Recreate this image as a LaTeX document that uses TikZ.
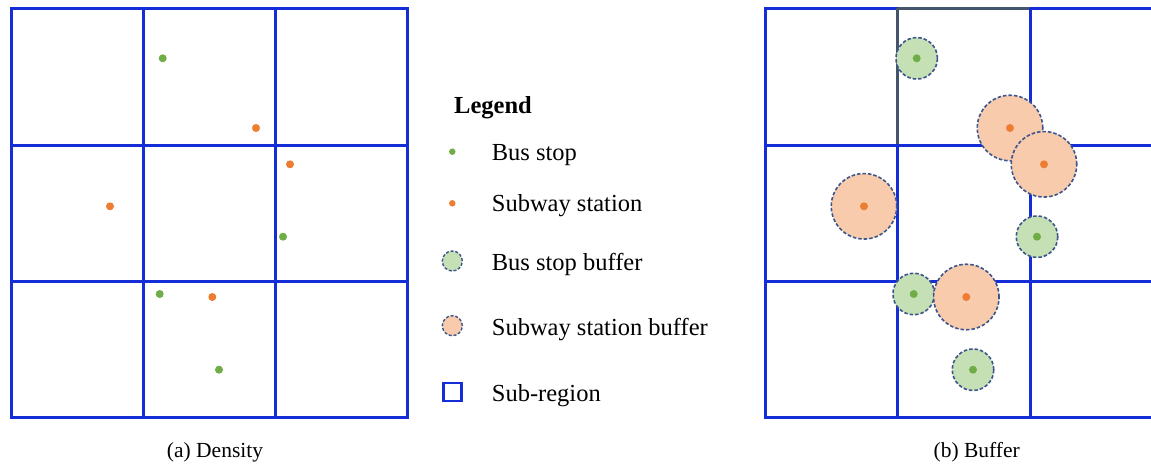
\documentclass[tikz,border=0pt]{standalone}
\usepackage{fontspec}
\setmainfont{Liberation Serif}
\definecolor{gridblue}{RGB}{20,45,215}
\definecolor{slate}{RGB}{68,84,106}
\definecolor{busg}{RGB}{112,173,71}
\definecolor{subo}{RGB}{237,125,49}
\definecolor{busfill}{RGB}{197,224,180}
\definecolor{subfill}{RGB}{248,203,173}
\definecolor{bufline}{RGB}{60,85,140}
\begin{document}
\begin{tikzpicture}[x=1pt,y=-1pt,
  gridline/.style={draw=gridblue,line width=3pt},
  busdot/.style={circle,fill=busg,inner sep=0pt,minimum size=8pt},
  subdot/.style={circle,fill=subo,inner sep=0pt,minimum size=8pt},
  lbusdot/.style={circle,fill=busg,inner sep=0pt,minimum size=6.5pt},
  lsubdot/.style={circle,fill=subo,inner sep=0pt,minimum size=6.5pt},
  busbuf/.style={circle,fill=busfill,draw=bufline,dash pattern=on 3.5pt off 2pt,line width=1.6pt,inner sep=0pt,minimum size=41.5pt},
  subbuf/.style={circle,fill=subfill,draw=bufline,dash pattern=on 3.5pt off 2pt,line width=1.6pt,inner sep=0pt,minimum size=65.5pt},
  lbusbuf/.style={busbuf,minimum size=20pt,line width=1.4pt,dash pattern=on 3pt off 1.8pt},
  lsubbuf/.style={subbuf,minimum size=20pt,line width=1.4pt,dash pattern=on 3pt off 1.8pt},
  legtext/.style={anchor=base west,inner sep=0pt,font=\fontsize{24.5}{28}\selectfont},
  captext/.style={anchor=base,inner sep=0pt,font=\fontsize{21.5}{26}\selectfont}]
\useasboundingbox (0,0) rectangle (1151,464);
\clip (0,0) rectangle (1151,464);
% ---------- (a) Density grid ----------
\draw[gridline] (11,8.3) rectangle (407.3,417.7);
\draw[gridline] (143.5,8.3) -- (143.5,417.7);
\draw[gridline] (275.7,8.3) -- (275.7,417.7);
\draw[gridline] (11,145) -- (407.3,145);
\draw[gridline] (11,281) -- (407.3,281);
\node[busdot] (a1) at (162.7,58.3) {};
\node[subdot] (a2) at (256,128) {};
\node[subdot] (a3) at (290,164.3) {};
\node[subdot] (a4) at (110,206.3) {};
\node[busdot] (a5) at (283,236.7) {};
\node[busdot] (a6) at (159.7,294) {};
\node[subdot] (a7) at (212.3,297) {};
\node[busdot] (a8) at (219,369.7) {};
\node[captext] (capa) at (215,457.3) {(a) Density};
% ---------- (b) Buffer grid ----------
\draw[gridline] (1170,417.7) -- (765,417.7) -- (765,8.3) -- (897.5,8.3);
\draw[draw=slate,line width=3pt] (897.5,8.3) -- (1030,8.3);
\draw[gridline] (1030,8.3) -- (1170,8.3);
\draw[draw=slate,line width=3pt] (897.5,8.3) -- (897.5,145);
\draw[gridline] (897.5,145) -- (897.5,417.7);
\draw[gridline] (1030,8.3) -- (1030,417.7);
\draw[gridline] (765,145) -- (1170,145);
\draw[gridline] (765,281) -- (1170,281);
\node[busbuf] (bb1) at (916.7,58.3) {};
\node[subbuf] (sb2) at (1010,128) {};
\node[subbuf] (sb3) at (1044,164.3) {};
\node[subbuf] (sb4) at (864,206.3) {};
\node[busbuf] (bb5) at (1037,236.7) {};
\node[busbuf] (bb6) at (913.7,294) {};
\node[subbuf] (sb7) at (966.3,297) {};
\node[busbuf] (bb8) at (973,369.7) {};
\node[busdot] (b1) at (bb1) {};
\node[subdot] (b2) at (sb2) {};
\node[subdot] (b3) at (sb3) {};
\node[subdot] (b4) at (sb4) {};
\node[busdot] (b5) at (bb5) {};
\node[busdot] (b6) at (bb6) {};
\node[subdot] (b7) at (sb7) {};
\node[busdot] (b8) at (bb8) {};
\node[captext] (capb) at (976.7,457.3) {(b) Buffer};
% ---------- Legend ----------
\node[legtext,font=\fontsize{24.5}{28}\selectfont\bfseries] (leg) at (454,113.3) {Legend};
\node[lbusdot] (l1) at (452.3,151.7) {};
\node[legtext] (t1) at (491.7,160.7) {Bus stop};
\node[lsubdot] (l2) at (452.3,203.3) {};
\node[legtext] (t2) at (491.7,211.7) {Subway station};
\node[lbusbuf] (l3) at (452.3,261) {};
\node[legtext] (t3) at (491.7,270) {Bus stop buffer};
\node[lsubbuf] (l4) at (452.3,325.7) {};
\node[legtext] (t4) at (491.7,335.7) {Subway station buffer};
\node[draw=gridblue,line width=2.4pt,inner sep=0pt,minimum size=18pt] (l5) at (452.3,391.7) {};
\node[legtext] (t5) at (491.7,401.7) {Sub-region};
\end{tikzpicture}
\end{document}
